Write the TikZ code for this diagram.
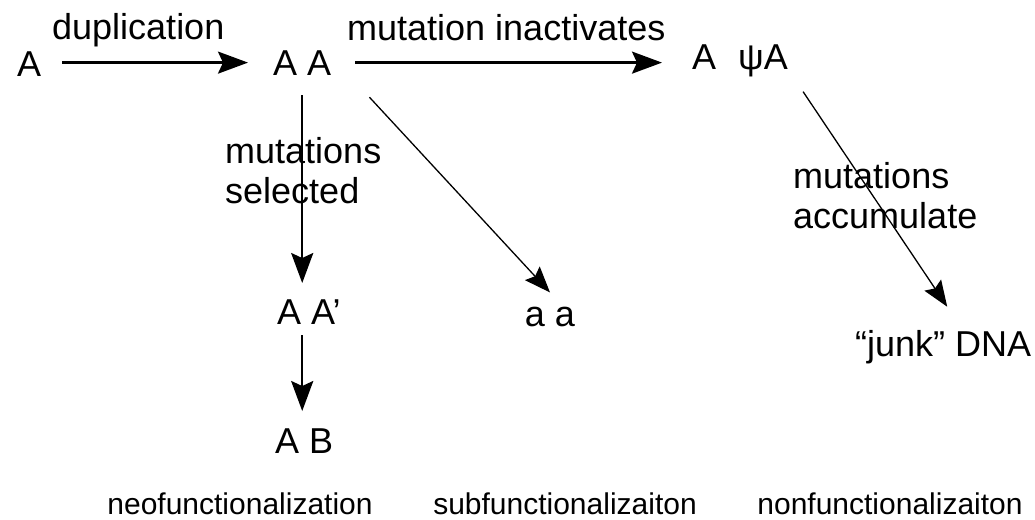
\documentclass[tikz,border=0pt]{standalone}
\usepackage{fontspec}
\setmainfont{Liberation Sans}
\usetikzlibrary{arrows.meta,calc}
\begin{document}
\begin{tikzpicture}[x=1pt,y=-1pt,
  lbl/.style={inner sep=0pt,font=\fontsize{36}{40}\selectfont},
  bot/.style={inner sep=0pt,anchor=base,font=\fontsize{30}{34}\selectfont},
  thickarr/.style={line width=2.5pt,-{Stealth[length=30pt,width=22pt,inset=5pt]}},
  thinarr/.style={line width=1.3pt,-{Stealth[length=26pt,width=20pt,inset=4pt]}}]
\useasboundingbox (0,0) rectangle (1035,519);
% gene nodes
\node[lbl,anchor=base west] (A0) at (17,77) {A};
\node[lbl,anchor=base west] (AA) at (273,75) {A A};
\node[lbl,anchor=base west] (ApA) at (692,70) {A\hspace{22pt}ψA};
\node[lbl,anchor=base west] (AA1) at (277,324) {A A’};
\node[lbl,anchor=base west] (AB) at (275,453) {A B};
\node[lbl,anchor=base] (aa) at (550,326) {a a};
\node[lbl,anchor=base west] (junk) at (855,356) {“junk” DNA};
% arrow labels
\node[lbl,anchor=base west] (ldup) at (52,40) {duplication};
\node[lbl,anchor=base west] (linact) at (347,41) {mutation inactivates};
\node[lbl,anchor=north west,align=left] (lsel) at (225,137) {mutations\\selected};
\node[lbl,anchor=north west,align=left] (lacc) at (793,162) {mutations\\accumulate};
% bottom labels
\node[bot] (neo) at (240,514) {neofunctionalization};
\node[bot] (sub) at (565,514) {subfunctionalizaiton};
\node[bot] (non) at (890,514) {nonfunctionalizaiton};
% connectors
\draw[thickarr,shorten <=21pt,shorten >=25pt] (AA.west -| A0.east) -- (AA.west);
\draw[thickarr,shorten <=24pt,shorten >=30pt] (AA.east) -- (AA.east -| ApA.west);
\draw[thickarr,shorten <=20pt,shorten >=16pt] (AA.south) -- (AA.south |- AA1.north);
\draw[thickarr,shorten <=11pt,shorten >=17pt] (AA.south |- AA1.south) -- (AA.south |- AB.north);
\draw[thinarr] ($(AA.south east)+(38,22)$) -- ($(aa.north)+(0,-14)$);
\draw[thinarr] ($(ApA.south east)+(15,14)$) -- ($(junk.north)+(4,-23)$);
\end{tikzpicture}
\end{document}
